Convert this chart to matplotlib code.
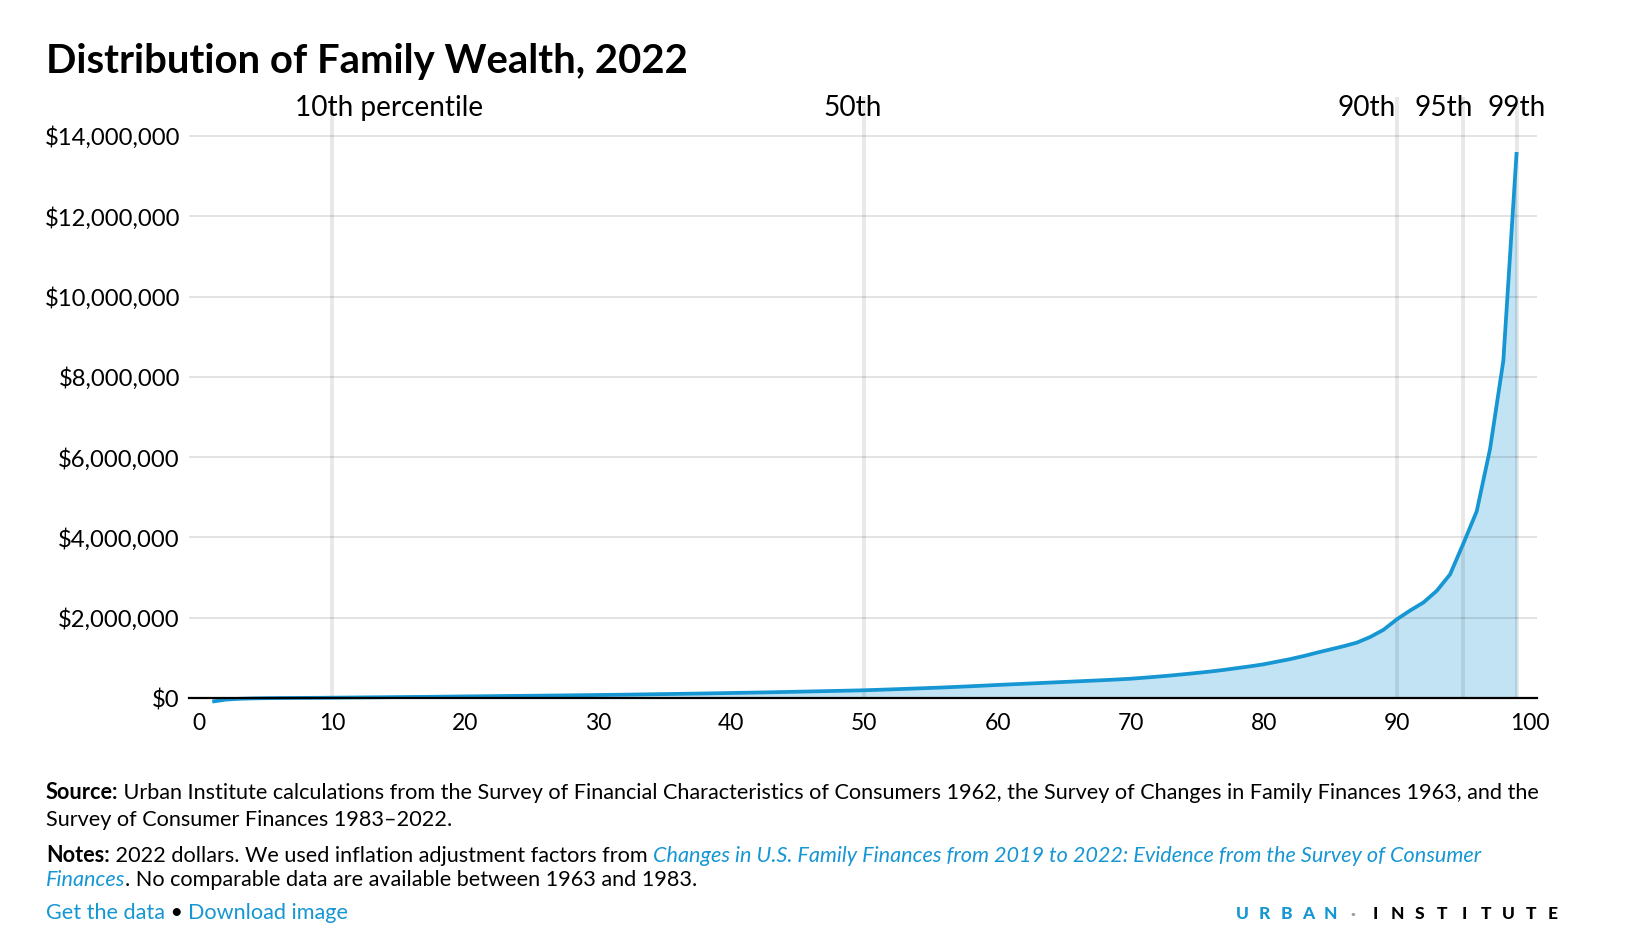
import matplotlib
matplotlib.use("Agg")
import matplotlib.pyplot as plt
from matplotlib.ticker import FuncFormatter

plt.rcParams['font.family'] = ['Lato', 'DejaVu Sans']

# ---------------- data ----------------
percentiles = list(range(1, 100))
wealth_thousands = [
    -90, -40, -20, -10, -5, -1, 1, 3, 5, 8,
    11, 14, 17, 20, 23, 26, 29, 32, 36, 40,
    43, 46, 50, 53, 56, 60, 63, 67, 71, 75,
    79, 83, 88, 93, 98, 103, 108, 113, 119, 125,
    131, 137, 143, 150, 157, 164, 171, 178, 185, 193,
    204, 215, 227, 239, 251, 264, 278, 293, 309, 325,
    340, 355, 370, 385, 400, 415, 430, 445, 462, 480,
    505, 532, 560, 592, 625, 660, 700, 745, 790, 840,
    905, 970, 1045, 1130, 1210, 1290, 1380, 1520, 1700, 1960,
    2180, 2380, 2670, 3080, 3850, 4650, 6200, 8400, 13600,
]
marker_pcts = [10, 50, 90, 95, 99]
marker_labels = ["10th percentile", "50th", "90th", "95th", "99th"]
x_ticks = list(range(0, 101, 10))
y_ticks = list(range(0, 14_000_001, 2_000_000))

title = "Distribution of Family Wealth, 2022"

BLUE = "#1696d2"
wealth = [v * 1000 for v in wealth_thousands]

# ---------------- figure ----------------
W, H = 1636, 942
fig = plt.figure(figsize=(W / 100, H / 100), dpi=100)

ax_left, ax_right, ax_top, ax_bottom = 189, 1537, 97, 698
XMIN, XMAX = -0.75, 100.53
ax = fig.add_axes([ax_left / W, 1 - ax_bottom / H, (ax_right - ax_left) / W, (ax_bottom - ax_top) / H])
ax.set_xlim(XMIN, XMAX)
ax.set_ylim(0, 14.97e6)

for s in ["top", "right", "left"]:
    ax.spines[s].set_visible(False)
ax.spines["bottom"].set_color("black")
ax.spines["bottom"].set_linewidth(1.6)
ax.spines["bottom"].set_zorder(6)

# horizontal grid
for yv in y_ticks[1:]:
    ax.axhline(yv, color="black", alpha=0.13, lw=1.2, zorder=4)

# fill + line
ax.fill_between(percentiles, wealth, 0, color=BLUE, alpha=0.26, lw=0, zorder=2, clip_on=False)
ax.plot(percentiles, wealth, color=BLUE, lw=2.7, zorder=5, clip_on=False, solid_capstyle="butt")

# percentile marker lines
for p in marker_pcts:
    ax.axvline(p, color="black", alpha=0.09, lw=2.8, zorder=3)

label_offsets = [4.3, -0.9, -2.25, -1.5, 0.0]
for p, lab, off in zip(marker_pcts, marker_labels, label_offsets):
    xd = p + off
    xf = ax_left + (xd - XMIN) / (XMAX - XMIN) * (ax_right - ax_left)
    fig.text(xf / W, 1 - 108 / H, lab, ha="center", va="center", fontsize=20.2, color="black", zorder=10)

ax.set_xticks(x_ticks)
ax.set_yticks(y_ticks)
ax.yaxis.set_major_formatter(FuncFormatter(lambda v, _: f"${int(v):,}"))
ax.tick_params(axis="both", length=0, labelsize=16.5, colors="black")
ax.tick_params(axis="y", pad=6.5, labelsize=17.2)
ax.tick_params(axis="x", pad=11)

# title
fig.text(46 / W, 1 - 62 / H, title, ha="left", va="center", fontsize=28.8, fontweight="bold", color="black")

# ---------------- footer ----------------
renderer = fig.canvas.get_renderer()
FS = 15.6


def draw_line(x_px, y_px, pieces):
    x = x_px
    for txt, style in pieces:
        kw = dict(fontsize=FS, va="baseline", ha="left", color="black")
        if style == "bold":
            kw["fontweight"] = "bold"
        elif style == "link":
            kw["color"] = BLUE
        elif style == "italiclink":
            kw["color"] = BLUE
            kw["fontstyle"] = "italic"
        t = fig.text(x / W, 1 - y_px / H, txt, **kw)
        bb = t.get_window_extent(renderer=renderer)
        x += bb.width


draw_line(46, 799, [("Source:", "bold"),
                    (" Urban Institute calculations from the Survey of Financial Characteristics of Consumers 1962, the Survey of Changes in Family Finances 1963, and the", "normal")])
draw_line(46, 826, [("Survey of Consumer Finances 1983\u20132022.", "normal")])
draw_line(46, 862, [("Notes:", "bold"),
                    (" 2022 dollars. We used inflation adjustment factors from ", "normal"),
                    ("Changes in U.S. Family Finances from 2019 to 2022: Evidence from the Survey of Consumer", "italiclink")])
draw_line(46, 886, [("Finances", "italiclink"),
                    (". No comparable data are available between 1963 and 1983.", "normal")])
draw_line(46, 919, [("Get the data", "link"), (" \u2022 ", "normal"), ("Download image", "link")])

# logo
logo_chars = list("URBAN") + ["\u00b7"] + list("INSTITUTE")
x0, x1 = 1242, 1553
step = (x1 - x0) / (len(logo_chars) - 1)
for i, ch in enumerate(logo_chars):
    col = BLUE if i < 5 else ("#9a9a9a" if i == 5 else "black")
    fig.text((x0 + i * step) / W, 1 - 914 / H, ch, ha="center", va="center",
             fontsize=12.5, fontweight="black", color=col)

fig.savefig("out.png", dpi=100)
